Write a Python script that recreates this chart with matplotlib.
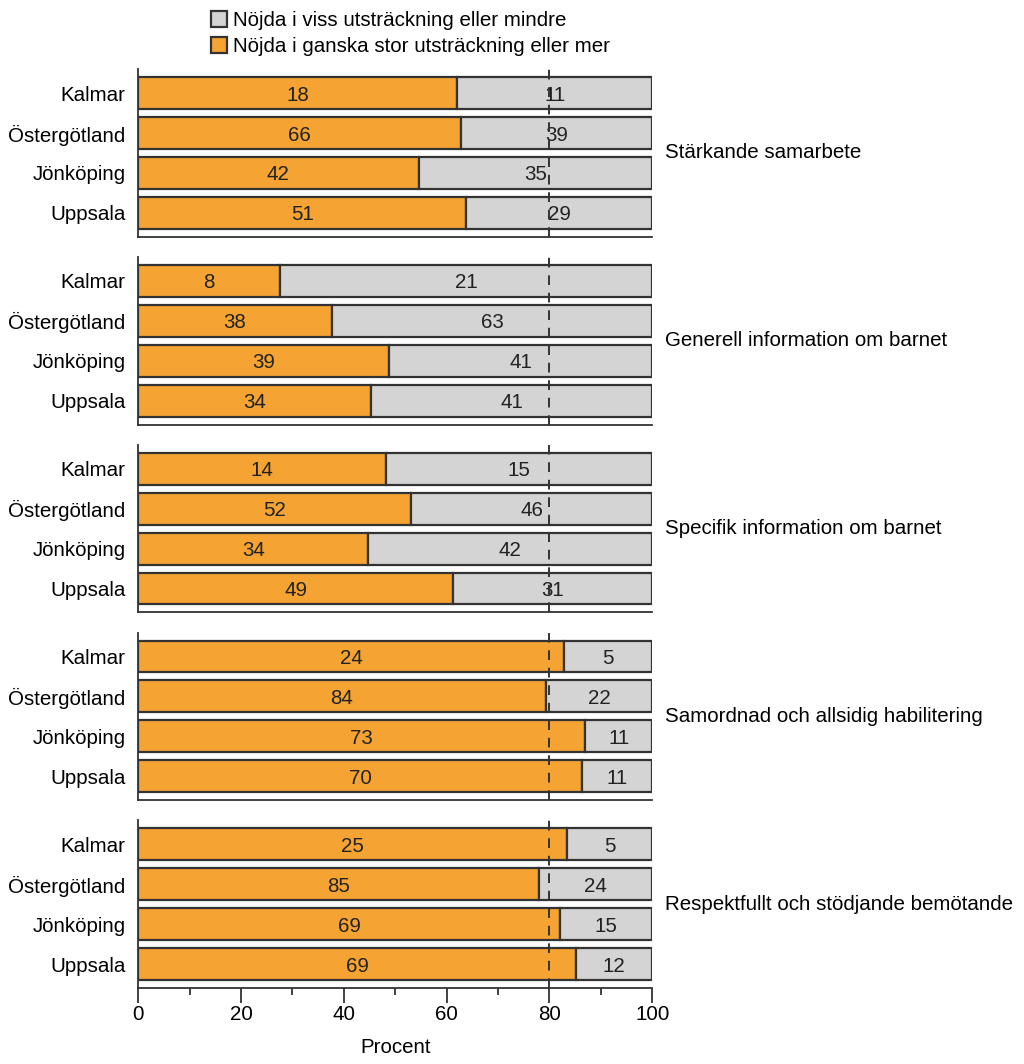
import matplotlib
matplotlib.use("Agg")
import matplotlib.pyplot as plt
from matplotlib.patches import Patch
from matplotlib.ticker import MultipleLocator

plt.rcParams['font.family'] = ['Liberation Sans', 'DejaVu Sans']

REGIONS = ["Kalmar", "Östergötland", "Jönköping", "Uppsala"]
GROUPS = [
    "Stärkande samarbete",
    "Generell information om barnet",
    "Specifik information om barnet",
    "Samordnad och allsidig habilitering",
    "Respektfullt och stödjande bemötande",
]
# counts per group, in REGIONS order
SATISFIED = [
    [18, 66, 42, 51],
    [8, 38, 39, 34],
    [14, 52, 34, 49],
    [24, 84, 73, 70],
    [25, 85, 69, 69],
]
LESS_SATISFIED = [
    [11, 39, 35, 29],
    [21, 63, 41, 41],
    [15, 46, 42, 31],
    [5, 22, 11, 11],
    [5, 24, 15, 12],
]
THRESHOLD = 80

ORANGE = '#F5A433'
GRAY = '#D4D4D4'
EDGE = '#333333'
FS = 14.8

fig = plt.figure(figsize=(10.24, 10.64), dpi=100)
gs = fig.add_gridspec(len(GROUPS), 1, left=0.135, right=0.637,
                      top=0.935, bottom=0.0714, hspace=0.12)

for i, group in enumerate(GROUPS):
    ax = fig.add_subplot(gs[i])
    sat = SATISFIED[i]
    less = LESS_SATISFIED[i]
    pos = list(range(len(REGIONS)))
    sat_pct = [s / (s + l) * 100 for s, l in zip(sat, less)]
    less_pct = [100 - p for p in sat_pct]
    ax.barh(pos, sat_pct, height=0.8, color=ORANGE, edgecolor=EDGE, linewidth=1.6)
    ax.barh(pos, less_pct, left=sat_pct, height=0.8, color=GRAY, edgecolor=EDGE, linewidth=1.6)
    for y, s, l, p in zip(pos, sat, less, sat_pct):
        ax.text(p / 2, y + 0.05, str(s), ha='center', va='center', fontsize=FS, color='#222222')
        ax.text(p + (100 - p) / 2, y + 0.05, str(l), ha='center', va='center', fontsize=FS, color='#222222')
    ax.axvline(THRESHOLD, color=EDGE, linestyle=(0, (5, 4)), linewidth=1.4, zorder=3)
    ax.set_xlim(0, 100)
    ax.set_ylim(3.6, -0.6)
    ax.set_yticks(pos)
    ax.set_yticklabels(REGIONS, fontsize=FS)
    ax.tick_params(axis='y', length=0, pad=9)
    for side in ['top', 'right']:
        ax.spines[side].set_visible(False)
    ax.spines['left'].set_color(EDGE)
    ax.spines['bottom'].set_color(EDGE)
    ax.spines['left'].set_linewidth(1.3)
    ax.spines['bottom'].set_linewidth(1.3)
    ax.text(1.025, 0.5, group, transform=ax.transAxes, ha='left', va='center', fontsize=FS)
    if i < len(GROUPS) - 1:
        ax.set_xticks([])
    else:
        ax.xaxis.set_major_locator(MultipleLocator(20))
        ax.xaxis.set_minor_locator(MultipleLocator(10))
        ax.tick_params(axis='x', which='major', length=11, width=1.3, labelsize=FS, color=EDGE, pad=1)
        ax.tick_params(axis='x', which='minor', length=5, width=1.3, color=EDGE)
        ax.set_xlabel("Procent", fontsize=FS, labelpad=10)

handles = [
    Patch(facecolor=GRAY, edgecolor=EDGE, linewidth=1.6, label="Nöjda i viss utsträckning eller mindre"),
    Patch(facecolor=ORANGE, edgecolor=EDGE, linewidth=1.6, label="Nöjda i ganska stor utsträckning eller mer"),
]
fig.legend(handles=handles, loc='upper left', bbox_to_anchor=(0.188, 1.007), frameon=False,
           fontsize=FS, handlelength=0.8, handleheight=0.8, handletextpad=0.25, labelspacing=0.35)

fig.savefig("out.png", dpi=100)
